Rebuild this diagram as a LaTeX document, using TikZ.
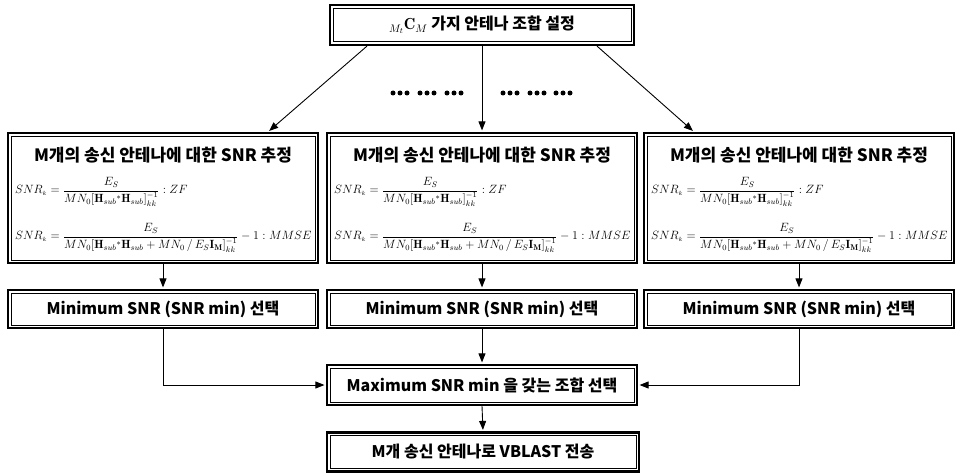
\documentclass[tikz,border=0pt]{standalone}
\usepackage{fontspec}
\usepackage{amsmath}
\newfontfamily\kr{Noto Sans CJK KR}
\usetikzlibrary{arrows.meta,calc}
\tikzset{
  box/.style={draw, line width=2.2pt, inner sep=0pt},
  inbox/.style={draw, line width=0.8pt},
  lbl/.style={font=\kr\bfseries\fontsize{16}{19}\selectfont},
  ttl/.style={font=\kr\bfseries\fontsize{17}{20}\selectfont, inner sep=0pt},
  fml/.style={font=\fontsize{11.9}{14}\selectfont, inner sep=0pt, anchor=west},
  arr/.style={line width=0.9pt, -{Triangle[length=9pt,width=7pt]}, shorten >=1.5pt},
  dotc/.style={fill=black, draw=none}
}
\newcommand\innerframe[1]{\draw[inbox] ($(#1.south west)+(4.2pt,4.2pt)$) rectangle ($(#1.north east)+(-4.2pt,-4.2pt)$);}
\newcommand\fZF{$\displaystyle SNR_{\scriptscriptstyle k}=\frac{E_S}{MN_0[\mathbf{H}_{sub}{}^{*}\mathbf{H}_{sub}]^{-1}_{kk}}:ZF$}
\newcommand\fMM{$\displaystyle SNR_{\scriptscriptstyle k}=\frac{E_S}{MN_0[\mathbf{H}_{sub}{}^{*}\mathbf{H}_{sub}+MN_0\,/\,E_S\mathbf{I}_{\mathbf{M}}]^{-1}_{kk}}-1:MMSE$}
\begin{document}
\begin{tikzpicture}[x=1pt,y=-1pt]
\useasboundingbox[fill=white] (0,0) rectangle (955,476);
% top
\node[box, lbl, minimum width=304pt, minimum height=40pt] (top) at (482,25) {${}_{M_t}\mathbf{C}_{M}$ 가지 안테나 조합 설정};
% SNR boxes
\foreach \n/\x in {s1/163, s2/482, s3/799}{
  \node[box, minimum width=310pt, minimum height=130pt] (\n) at (\x,198) {};
  \node[ttl] (\n t) at ($(\n.north)+(0,-23pt)$) {M개의 송신 안테나에 대한 SNR 추정};
  \node[fml] (\n a) at ($(\n.north west)+(8pt,-60pt)$) {\fZF};
  \node[fml] (\n b) at ($(\n.north west)+(8pt,-106pt)$) {\fMM};
}
% min boxes
\foreach \n/\x in {m1/163, m2/482, m3/799}{
  \node[box, lbl, minimum width=310pt, minimum height=38pt] (\n) at (\x,309) {Minimum SNR (SNR min) 선택};
}
\node[box, lbl, minimum width=310pt, minimum height=40pt] (mx) at (482,385) {Maximum SNR min 을 갖는 조합 선택};
\node[box, lbl, minimum width=312pt, minimum height=39pt] (fin) at (483,452) {M개 송신 안테나로 VBLAST 전송};
\foreach \n in {top,s1,s2,s3,m1,m2,m3,mx,fin}{\innerframe{\n}}
% connectors
\coordinate (tl) at ($(top.south)+(-115pt,0)$);
\coordinate (tr) at ($(top.south)+(115pt,0)$);
\coordinate (e1) at ($(s1.north)+(105pt,0)$);
\coordinate (e3) at ($(s3.north)+(-105pt,0)$);
\draw[arr] (tl) -- (e1);
\draw[arr] (tr) -- (e3);
\draw[arr] (top.south) -- (s2.north);
\draw[arr] (s1.south) -- (m1.north);
\draw[arr] (s2.south) -- (m2.north);
\draw[arr] (s3.south) -- (m3.north);
\draw[arr] (m1.south) |- (mx.west);
\draw[arr] (m3.south) |- (mx.east);
\draw[arr] (m2.south) -- (mx.north);
\draw[arr] (mx.south) -- (fin.north);
% dots
\foreach \g in {390,417,444,500,527,553}{
  \foreach \d in {3,10,17}{ \fill[dotc] (\g+\d,93) circle (2.5pt); }
}
\end{tikzpicture}
\end{document}
